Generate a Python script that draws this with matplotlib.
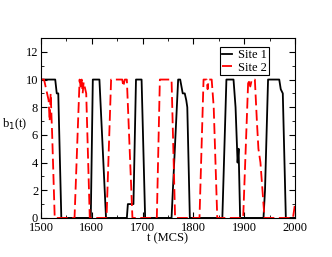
import matplotlib
matplotlib.use("Agg")
import matplotlib.pyplot as plt
from matplotlib.ticker import MultipleLocator

# Site 1 (black)
t1 = [1500, 1528, 1531, 1534, 1540, 1598, 1602, 1615, 1628, 1669, 1671, 1680, 1682,
      1687, 1698, 1705, 1757, 1770, 1774, 1779, 1783, 1786, 1788, 1793, 1857, 1865,
      1879, 1883, 1887, 1889, 1892, 1938, 1941, 1947, 1969, 1972, 1976, 1982, 2000]
b1 = [10, 10, 9, 9, 0, 0, 10, 10, 0, 0, 1, 1, 1,
      10, 10, 0, 0, 10, 10, 9, 9, 8.5, 8, 0, 0, 10,
      10, 8, 4, 5, 0, 0, 2, 10, 10, 9.3, 9, 0, 0]

# Site 2 (red)
t2 = [1500, 1506, 1509, 1512, 1515, 1517, 1519, 1522, 1527, 1566, 1576, 1578, 1580,
      1582, 1584, 1589, 1596, 1629, 1638, 1660, 1662, 1665, 1669, 1680, 1728, 1734,
      1757, 1764, 1812, 1820, 1826, 1828, 1830, 1836, 1840, 1847, 1898, 1908, 1912,
      1915, 1921, 1925, 1928, 1932, 1940, 1996, 2000]
b2 = [10, 10, 9.5, 9, 8.5, 7, 9, 6, 0, 0, 10, 9.5, 10,
      9, 9.8, 9, 0, 0, 10, 10, 9.5, 10, 10, 0, 0, 10,
      10, 0, 0, 10, 10, 9.3, 10, 10, 8, 0, 0, 10, 9.5,
      10, 10, 7, 5, 4, 0, 0, 1]

plt.rcParams['font.family'] = ['Liberation Serif', 'DejaVu Serif']

fig = plt.figure(figsize=(3.32, 2.57), dpi=100)
ax = fig.add_axes([0.1235, 0.152, 0.765, 0.70])

ax.plot(t1, b1, color='black', lw=1.3, label='Site 1')
ax.plot(t2, b2, color='red', lw=1.3, dashes=(6, 2.5), label='Site 2')

ax.set_xlim(1500, 2000)
ax.set_ylim(0, 13)
ax.xaxis.set_major_locator(MultipleLocator(100))
ax.xaxis.set_minor_locator(MultipleLocator(50))
ax.yaxis.set_major_locator(MultipleLocator(2))
ax.yaxis.set_minor_locator(MultipleLocator(1))
ax.tick_params(which='both', direction='in', top=True, right=True, labelsize=9, pad=2)
ax.tick_params(axis='x', which='major', pad=3)
ax.tick_params(which='major', length=4)
ax.tick_params(which='minor', length=2)

ax.set_xlabel('t (MCS)', fontsize=9, labelpad=-1)
ax.set_ylabel('b$_1$(t)', fontsize=9, rotation=0, va='center', ha='left')
ax.yaxis.set_label_coords(-0.155, 0.52)

leg = ax.legend(loc='upper right', bbox_to_anchor=(0.896, 0.95), fontsize=9,
                frameon=True, fancybox=False, edgecolor='black', framealpha=1,
                handlelength=0.8, handletextpad=0.5, borderpad=0.15,
                labelspacing=0.05, borderaxespad=0)
leg.get_frame().set_linewidth(0.8)

fig.savefig('out.png', dpi=100)
